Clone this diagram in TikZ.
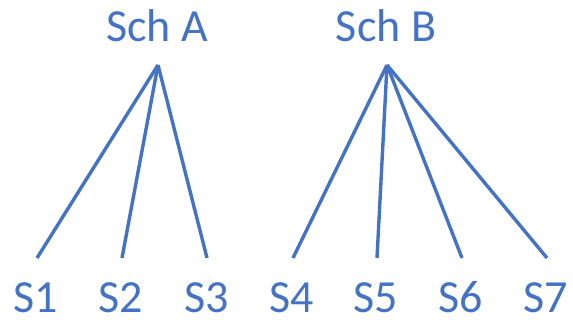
\documentclass[tikz,border=0pt]{standalone}
\usepackage{fontspec}
\setmainfont{Carlito}
\definecolor{offblue}{HTML}{4472C4}
\begin{document}
\begin{tikzpicture}[x=1pt,y=-1pt,
  lbl/.style={anchor=base,inner sep=0pt,text=offblue,font=\fontsize{46}{50}\selectfont},
  edge/.style={draw=offblue,line width=3.4pt}]
\useasboundingbox (0,0) rectangle (573,320);
\node[lbl] (A) at (157,42) {Sch A};
\node[lbl] (B) at (386,42) {Sch B};
\node[lbl] (s1) at (36,313) {S1};
\node[lbl] (s2) at (121,313) {S2};
\node[lbl] (s3) at (207,313) {S3};
\node[lbl] (s4) at (292,313) {S4};
\node[lbl] (s5) at (376,313) {S5};
\node[lbl] (s6) at (461,313) {S6};
\node[lbl] (s7) at (546,313) {S7};
\coordinate (pa) at (158,65);
\coordinate (pb) at (387,65);
\coordinate (e1) at (37,258);
\coordinate (e2) at (122,258);
\coordinate (e3) at (207,258);
\coordinate (e4) at (293,258);
\coordinate (e5) at (377,258);
\coordinate (e6) at (462,258);
\coordinate (e7) at (547,258);
\foreach \e in {e1,e2,e3} \draw[edge] (pa) -- (\e);
\foreach \e in {e4,e5,e6,e7} \draw[edge] (pb) -- (\e);
\end{tikzpicture}
\end{document}
